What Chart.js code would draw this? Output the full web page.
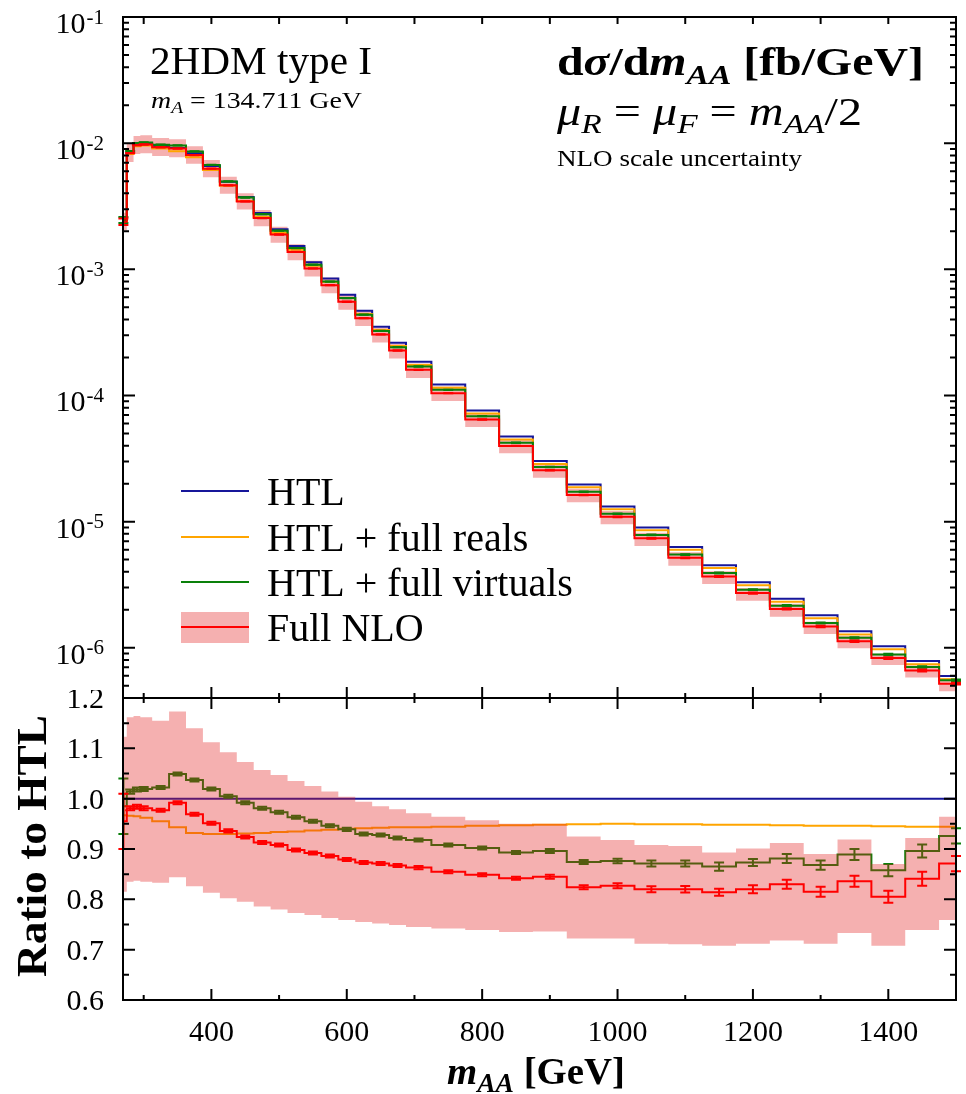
<!DOCTYPE html>
<html>
<head>
<meta charset="utf-8">
<script src="https://cdn.jsdelivr.net/npm/chart.js@4.4.0/dist/chart.umd.min.js"></script>
<style>
  html, body { margin: 0; padding: 0; background: #fff; }
  #wrap { position: relative; width: 966px; height: 1094px; overflow: hidden; background: #fff; }
  canvas { position: absolute; left: 0; }
  #main { top: 0; }
  #ratio { top: 690px; }
</style>
</head>
<body>
<div id="wrap">
  <canvas id="main" width="966" height="700"></canvas>
  <canvas id="ratio" width="966" height="404"></canvas>
</div>
<script>
// m_AA bin edges [GeV] and the x where each bin's error bar sits
const binEdges = [269.422, 275, 285, 295, 312.5, 337.5, 362.5, 387.5, 412.5, 437.5, 462.5, 487.5,
  512.5, 537.5, 562.5, 587.5, 612.5, 637.5, 662.5, 687.5, 725, 775, 825, 875, 925, 975, 1025,
  1075, 1125, 1175, 1225, 1275, 1325, 1375, 1425, 1475, 1500];
const binCenters = [270, 280, 290, 300, 325, 350, 375, 400, 425, 450, 475, 500, 525, 550, 575,
  600, 625, 650, 675, 706, 750, 800, 850, 900, 950, 1000, 1050, 1100, 1150, 1200, 1250, 1300,
  1350, 1400, 1450, 1500];

// HTL dsigma/dm_AA [fb/GeV]
const htl = [2.5e-3, 8.5e-3, 9.8e-3, 9.95e-3, 9.5e-3, 9.15e-3, 8.3e-3, 6.6e-3, 4.95e-3, 3.74e-3,
  2.79e-3, 2.08e-3, 1.53e-3, 1.14e-3, 8.45e-4, 6.3e-4, 4.7e-4, 3.5e-4, 2.62e-4, 1.85e-4, 1.22e-4,
  7.6e-5, 4.73e-5, 3.02e-5, 1.97e-5, 1.32e-5, 9.0e-6, 6.3e-6, 4.52e-6, 3.31e-6, 2.45e-6, 1.81e-6,
  1.35e-6, 1.03e-6, 7.86e-7, 5.97e-7];

// ratios to HTL
const ratioReals = [0.967, 0.966, 0.965, 0.962, 0.955, 0.943, 0.932, 0.930, 0.930, 0.931, 0.932,
  0.934, 0.935, 0.937, 0.938, 0.940, 0.941, 0.942, 0.943, 0.943, 0.944, 0.946, 0.947, 0.948,
  0.949, 0.950, 0.949, 0.949, 0.948, 0.948, 0.947, 0.946, 0.946, 0.945, 0.944, 0.944];
const ratioVirt = [0.985, 1.014, 1.018, 1.019, 1.022, 1.049, 1.037, 1.019, 1.005, 0.992, 0.981,
  0.973, 0.963, 0.955, 0.946, 0.939, 0.930, 0.928, 0.922, 0.918, 0.908, 0.902, 0.893, 0.896,
  0.874, 0.876, 0.871, 0.871, 0.865, 0.873, 0.881, 0.868, 0.889, 0.858, 0.896, 0.926];
const ratioNLO = [0.955, 0.981, 0.984, 0.981, 0.977, 0.992, 0.969, 0.951, 0.936, 0.924, 0.913,
  0.908, 0.898, 0.892, 0.886, 0.879, 0.873, 0.871, 0.867, 0.863, 0.855, 0.849, 0.842, 0.845,
  0.824, 0.827, 0.820, 0.820, 0.814, 0.820, 0.830, 0.815, 0.836, 0.805, 0.841, 0.871];
// NLO scale uncertainty band (ratio to HTL)
const bandHi = [1.123, 1.162, 1.164, 1.162, 1.155, 1.173, 1.140, 1.112, 1.092, 1.073, 1.057,
  1.047, 1.035, 1.025, 1.014, 1.004, 0.994, 0.985, 0.979, 0.971, 0.964, 0.957, 0.950, 0.950,
  0.925, 0.918, 0.908, 0.906, 0.893, 0.901, 0.912, 0.890, 0.919, 0.870, 0.922, 0.964];
const bandLo = [0.815, 0.835, 0.837, 0.835, 0.833, 0.844, 0.826, 0.813, 0.802, 0.795, 0.786,
  0.780, 0.773, 0.769, 0.763, 0.759, 0.755, 0.752, 0.749, 0.745, 0.742, 0.739, 0.735, 0.736,
  0.722, 0.722, 0.712, 0.711, 0.708, 0.712, 0.718, 0.712, 0.733, 0.708, 0.739, 0.759];
// MC errors (relative to HTL)
const errVirt = [0.055, 0.004, 0.004, 0.004, 0.003, 0.003, 0.003, 0.003, 0.003, 0.003, 0.003,
  0.003, 0.003, 0.003, 0.003, 0.003, 0.003, 0.003, 0.003, 0.003, 0.003, 0.003, 0.003, 0.004,
  0.004, 0.0045, 0.006, 0.006, 0.008, 0.007, 0.009, 0.009, 0.011, 0.012, 0.013, 0.015];
const errNLO = [0.055, 0.004, 0.004, 0.004, 0.003, 0.003, 0.003, 0.003, 0.003, 0.003, 0.003,
  0.003, 0.003, 0.003, 0.003, 0.003, 0.003, 0.003, 0.003, 0.003, 0.003, 0.003, 0.003, 0.004,
  0.004, 0.005, 0.006, 0.0065, 0.007, 0.008, 0.009, 0.010, 0.011, 0.012, 0.014, 0.015];

const seriesNames = ['HTL', 'HTL + full reals', 'HTL + full virtuals', 'Full NLO'];
const xTickLabels = [400, 600, 800, 1000, 1200, 1400];
const ratioTickLabels = ['0.6', '0.7', '0.8', '0.9', '1.0', '1.1', '1.2'];
const logDecades = [-6, -5, -4, -3, -2, -1];

const SERIF = '"Liberation Serif", "DejaVu Serif", serif';
const BLUE = '#16169a', ORANGE = '#ffa500', GREEN = '#0a800a', RED = '#ff0000';
const BAND = 'rgba(225, 30, 30, 0.35)';

const times = (a, b) => a.map((v, i) => v * b[i]);
const steps = vals => binEdges.map((e, i) => ({ x: e, y: vals[Math.min(i, vals.length - 1)] }));

function lineDs(label, vals, color, extra) {
  return Object.assign({ label, data: steps(vals), borderColor: color, borderWidth: 2,
    stepped: true, pointRadius: 0, fill: false }, extra || {});
}

// error bars, drawn right after their own line so the band can sit over them
const errorBars = {
  id: 'errorBars',
  afterDatasetDraw(chart, args) {
    const ds = chart.data.datasets[args.index];
    if (!ds.errBars) return;
    const { ctx, scales: { x, y } } = chart;
    const { val, err } = ds.errBars;
    ctx.save();
    ctx.strokeStyle = ds.borderColor;
    ctx.lineWidth = 2;
    ctx.beginPath();
    binCenters.forEach((xv, i) => {
      const px = x.getPixelForValue(xv);
      const p1 = y.getPixelForValue(val[i] - err[i]);
      const p2 = y.getPixelForValue(val[i] + err[i]);
      ctx.moveTo(px, p1); ctx.lineTo(px, p2);
      ctx.moveTo(px - 5, p1); ctx.lineTo(px + 5, p1);
      ctx.moveTo(px - 5, p2); ctx.lineTo(px + 5, p2);
    });
    ctx.stroke();
    ctx.restore();
  }
};

function drawRich(ctx, parts, x, y, width, align) {
  ctx.save();
  let w = 0;
  parts.forEach(p => { ctx.font = p[1]; w += ctx.measureText(p[0]).width; });
  const sx = width ? width / w : 1;
  ctx.translate(align === 'center' ? x - w * sx / 2 : x, y);
  ctx.scale(sx, 1);
  ctx.textAlign = 'left';
  ctx.textBaseline = 'alphabetic';
  ctx.fillStyle = '#000';
  let cx = 0;
  parts.forEach(p => {
    ctx.font = p[1];
    ctx.fillText(p[0], cx, p[2] || 0);
    cx += ctx.measureText(p[0]).width;
  });
  ctx.restore();
}

const f = (s, px) => s + ' ' + px + 'px ' + SERIF;

// ---------- top panel ----------
const htlTop = htl;
const realsTop = times(htl, ratioReals);
const virtTop = times(htl, ratioVirt);
const nloTop = times(htl, ratioNLO);

const topAxes = {
  id: 'topAxes',
  afterDraw(chart) {
    const { ctx, chartArea: a, scales: { x, y } } = chart;
    ctx.save();
    ctx.strokeStyle = '#000';
    ctx.lineWidth = 2;
    ctx.strokeRect(a.left, a.top, a.right - a.left, a.bottom - a.top);
    ctx.beginPath();
    for (let d = -7; d <= -1; d++) {
      for (let k = 1; k <= 9; k++) {
        const v = k * Math.pow(10, d);
        if (v < y.min * 0.999 || v > y.max * 1.001) continue;
        const py = y.getPixelForValue(v), len = k === 1 ? 12 : 6;
        ctx.moveTo(a.left, py); ctx.lineTo(a.left + len, py);
        ctx.moveTo(a.right, py); ctx.lineTo(a.right - len, py);
      }
    }
    for (let v = 300; v < 1500; v += 100) {
      const px = x.getPixelForValue(v);
      ctx.moveTo(px, a.top); ctx.lineTo(px, a.top + 7);
      ctx.moveTo(px, a.bottom); ctx.lineTo(px, a.bottom - (v % 200 === 0 ? 11 : 5));
    }
    ctx.stroke();

    ctx.fillStyle = '#000';
    ctx.textBaseline = 'alphabetic';
    logDecades.forEach(d => {
      const py = y.getPixelForValue(Math.pow(10, d));
      ctx.font = f('', 21);
      const sup = '-' + (-d);
      const sw = ctx.measureText(sup).width;
      ctx.textAlign = 'left';
      ctx.fillText(sup, 104 - sw, py + 6.5);
      ctx.font = f('', 30);
      ctx.textAlign = 'right';
      ctx.fillText('10', 103 - sw, py + 16);
    });

    // labels inside the frame
    drawRich(ctx, [['2HDM type I', f('', 39)]], 150, 74, 222);
    drawRich(ctx, [['m', f('italic', 23)], ['A', f('italic', 16), 5], [' = 134.711 GeV', f('', 23)]], 151, 108, 211);
    drawRich(ctx, [['d', f('bold', 40)], ['σ', f('bold italic', 40)], ['/d', f('bold', 40)],
      ['m', f('bold italic', 40)], ['AA', f('bold italic', 28), 9], [' [fb/GeV]', f('bold', 40)]], 557, 75, 367);
    drawRich(ctx, [['μ', f('italic', 39)], ['R', f('italic', 27), 8], [' = ', f('', 39)],
      ['μ', f('italic', 39)], ['F', f('italic', 27), 8], [' = ', f('', 39)],
      ['m', f('italic', 39)], ['AA', f('italic', 27), 8], ['/2', f('', 39)]], 557, 125, 305);
    drawRich(ctx, [['NLO scale uncertainty', f('', 23)]], 557, 166, 245);

    // legend
    const rows = [491, 537, 582, 627];
    const cols = [BLUE, ORANGE, GREEN, RED];
    ctx.fillStyle = BAND;
    ctx.fillRect(181, 612, 68, 31);
    rows.forEach((ry, i) => {
      ctx.strokeStyle = cols[i];
      ctx.lineWidth = 2;
      ctx.beginPath(); ctx.moveTo(181, ry); ctx.lineTo(249, ry); ctx.stroke();
      drawRich(ctx, [[seriesNames[i], f('', 40)]], 267, ry + 13.5);
    });
    ctx.restore();
  }
};

new Chart(document.getElementById('main'), {
  type: 'line',
  data: {
    datasets: [
      lineDs(seriesNames[3], nloTop, RED, { errBars: { val: nloTop, err: times(htl, errNLO) } }),
      lineDs(seriesNames[2], virtTop, GREEN, { errBars: { val: virtTop, err: times(htl, errVirt) } }),
      lineDs(seriesNames[1], realsTop, ORANGE),
      lineDs(seriesNames[0], htlTop, BLUE),
      lineDs('band up', times(htl, bandHi), 'rgba(0,0,0,0)', { borderWidth: 0, backgroundColor: BAND, fill: '+1' }),
      lineDs('band down', times(htl, bandLo), 'rgba(0,0,0,0)', { borderWidth: 0 })
    ]
  },
  options: {
    responsive: false, animation: false, devicePixelRatio: 1,
    layout: { padding: { left: 123, right: 10, top: 17, bottom: 2 }, autoPadding: false },
    plugins: { legend: { display: false }, tooltip: { enabled: false } },
    scales: {
      x: { type: 'linear', min: 269.422, max: 1500, display: false },
      y: { type: 'logarithmic', min: 4e-7, max: 0.1, display: false }
    }
  },
  plugins: [errorBars, topAxes]
});

// ---------- ratio panel ----------
const ratioAxes = {
  id: 'ratioAxes',
  afterDraw(chart) {
    const { ctx, chartArea: a, scales: { x, y } } = chart;
    ctx.save();
    ctx.strokeStyle = '#000';
    ctx.lineWidth = 2;
    ctx.strokeRect(a.left, a.top, a.right - a.left, a.bottom - a.top);
    ctx.beginPath();
    for (let i = 0; i <= 12; i++) {
      const py = y.getPixelForValue(0.6 + i * 0.05), len = i % 2 === 0 ? 12 : 6;
      ctx.moveTo(a.left, py); ctx.lineTo(a.left + len, py);
      ctx.moveTo(a.right, py); ctx.lineTo(a.right - len, py);
    }
    for (let v = 300; v < 1500; v += 100) {
      const px = x.getPixelForValue(v), len = v % 200 === 0 ? 11 : 5;
      ctx.moveTo(px, a.top); ctx.lineTo(px, a.top + len);
      ctx.moveTo(px, a.bottom); ctx.lineTo(px, a.bottom - len);
    }
    ctx.stroke();

    ctx.fillStyle = '#000';
    ctx.font = f('', 30);
    ctx.textAlign = 'right';
    ctx.textBaseline = 'alphabetic';
    ratioTickLabels.forEach(t => ctx.fillText(t, 104, y.getPixelForValue(parseFloat(t)) + 10));
    ctx.textAlign = 'center';
    xTickLabels.forEach(v => ctx.fillText(String(v), x.getPixelForValue(v), 351));

    drawRich(ctx, [['m', f('bold italic', 38)], ['AA', f('bold italic', 27), 8], [' [GeV]', f('bold', 38)]],
      536, 394, 178, 'center');
    ctx.save();
    ctx.translate(46, 156);
    ctx.rotate(-Math.PI / 2);
    drawRich(ctx, [['Ratio to HTL', f('bold', 42)]], 0, 0, 262, 'center');
    ctx.restore();
    ctx.restore();
  }
};

new Chart(document.getElementById('ratio'), {
  type: 'line',
  data: {
    datasets: [
      lineDs(seriesNames[3], ratioNLO, RED, { errBars: { val: ratioNLO, err: errNLO } }),
      lineDs('band up', bandHi, 'rgba(0,0,0,0)', { borderWidth: 0, backgroundColor: BAND, fill: '+1' }),
      lineDs('band down', bandLo, 'rgba(0,0,0,0)', { borderWidth: 0 }),
      lineDs(seriesNames[2], ratioVirt, GREEN, { errBars: { val: ratioVirt, err: errVirt } }),
      lineDs(seriesNames[1], ratioReals, ORANGE),
      lineDs(seriesNames[0], htl.map(v => v / v), BLUE)
    ]
  },
  options: {
    responsive: false, animation: false, devicePixelRatio: 1,
    layout: { padding: { left: 123, right: 10, top: 8, bottom: 94 }, autoPadding: false },
    plugins: { legend: { display: false }, tooltip: { enabled: false } },
    scales: {
      x: { type: 'linear', min: 269.422, max: 1500, display: false },
      y: { type: 'linear', min: 0.6, max: 1.2, display: false }
    }
  },
  plugins: [errorBars, ratioAxes]
});
</script>
</body>
</html>
